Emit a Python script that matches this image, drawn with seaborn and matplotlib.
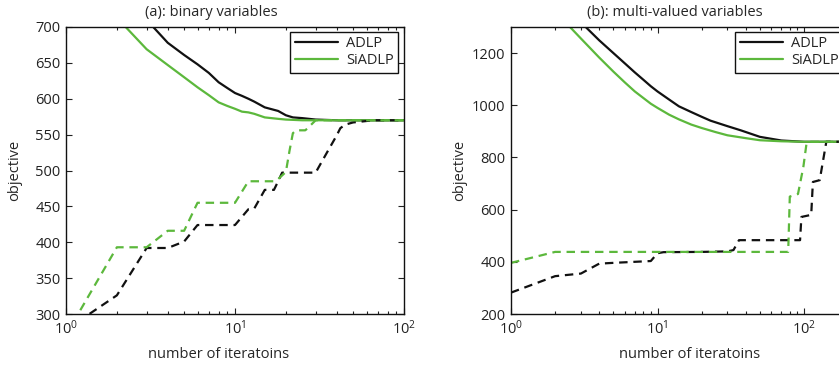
import numpy as np
import pandas as pd
import seaborn as sns
import matplotlib
matplotlib.use('Agg')
import matplotlib.pyplot as plt

# (a) binary variables
iters_a_adlp = [1, 2, 3, 4, 5, 6, 7, 8, 9, 10, 11, 12, 13, 15, 18, 20, 22, 25, 30, 40, 100]
adlp_a = [850, 780, 710, 678, 661, 648, 636, 623, 615, 608, 604, 600, 596, 588, 583, 577, 574, 573, 571, 570, 570]

iters_a_si = [1, 2, 3, 4, 5, 6, 7, 8, 9, 10, 11, 12, 13, 15, 18, 20, 25, 100]
siadlp_a = [788, 713, 669, 647, 630, 616, 605, 595, 590, 586, 582, 581, 579, 574, 572, 571, 570, 570]

iters_a_adlp_lb = [1, 2, 3, 4, 5, 6, 10, 12, 13, 15, 17, 18, 19, 30, 31, 35, 40, 42, 45, 50, 55, 60, 65, 100]
adlp_lb_a = [278, 326, 392, 392, 401, 424, 424, 446, 447, 473, 473, 485, 497, 497, 503, 525, 549, 559, 564, 567, 568, 569, 570, 570]

iters_a_si_lb = [1, 2, 3, 4, 5, 6, 10, 12, 17, 18, 20, 21, 22, 23, 26, 27, 28, 30, 100]
siadlp_lb_a = [271, 393, 393, 416, 416, 455, 455, 485, 485, 488, 498, 527, 552, 556, 556, 559, 563, 570, 570]

# (b) multi-valued variables
iters_b_adlp = [1, 2, 3, 4, 5, 6, 7, 8, 9, 10, 12, 14, 17, 20, 23, 30, 37, 50, 70, 100, 250]
adlp_b = [1600, 1413, 1318, 1249, 1200, 1160, 1126, 1098, 1073, 1053, 1022, 996, 974, 956, 941, 920, 904, 879, 865, 860, 860]

iters_b_si = [1, 2, 3, 4, 5, 6, 7, 8, 9, 10, 12, 14, 17, 20, 25, 30, 40, 50, 70, 100, 250]
siadlp_b = [1480, 1360, 1256, 1183, 1129, 1087, 1053, 1028, 1006, 990, 964, 946, 926, 913, 897, 885, 874, 866, 862, 860, 860]

iters_b_adlp_lb = [1, 2, 3, 4, 5, 9, 10, 11, 20, 30, 33, 36, 94, 96, 112, 115, 128, 142, 250]
adlp_lb_b = [282, 345, 355, 393, 396, 403, 433, 437, 438, 440, 445, 483, 483, 572, 580, 706, 713, 860, 860]

iters_b_si_lb = [1, 2, 78, 80, 85, 91, 99, 104, 107, 250]
siadlp_lb_b = [396, 438, 438, 650, 655, 660, 764, 853, 860, 860]

BLACK = '#111111'
GREEN = '#5cb83c'

sns.set_style('ticks')
plt.rcParams['font.family'] = ['Open Sans', 'DejaVu Sans']
plt.rcParams['mathtext.fontset'] = 'custom'
plt.rcParams['mathtext.rm'] = 'Open Sans'
plt.rcParams['mathtext.it'] = 'Open Sans'

FS = 10.5

fig = plt.figure(figsize=(8.39, 3.70), dpi=100)
ax_a = fig.add_axes([66 / 839, 56 / 370, 338 / 839, 287 / 370])
ax_b = fig.add_axes([511 / 839, 56 / 370, 338 / 839, 287 / 370])


def draw(ax, xs, ys, color, dashed, label=None):
    sns.lineplot(x=xs, y=ys, ax=ax, color=color, lw=1.6,
                 linestyle=(0, (3.8, 2.6)) if dashed else '-',
                 label=label, legend=False)


draw(ax_a, iters_a_adlp, adlp_a, BLACK, False, 'ADLP')
draw(ax_a, iters_a_si, siadlp_a, GREEN, False, 'SiADLP')
draw(ax_a, iters_a_adlp_lb, adlp_lb_a, BLACK, True)
draw(ax_a, iters_a_si_lb, siadlp_lb_a, GREEN, True)

draw(ax_b, iters_b_adlp, adlp_b, BLACK, False, 'ADLP')
draw(ax_b, iters_b_si, siadlp_b, GREEN, False, 'SiADLP')
draw(ax_b, iters_b_adlp_lb, adlp_lb_b, BLACK, True)
draw(ax_b, iters_b_si_lb, siadlp_lb_b, GREEN, True)

ax_a.set_xscale('log')
ax_a.set_xlim(1, 100)
ax_a.set_ylim(300, 700)
ax_a.set_yticks(np.arange(300, 701, 50))

ax_b.set_xscale('log')
ax_b.set_xlim(1, 10 ** (338 / 146.5))
ax_b.set_ylim(200, 1300)
ax_b.set_yticks(np.arange(200, 1201, 200))

for ax, title, tx, lx in [(ax_a, '(a): binary variables', 0.43, 0.45),
                          (ax_b, '(b): multi-valued variables', 0.485, 0.528)]:
    ax.set_title(title, fontsize=FS, x=tx, pad=8)
    ax.set_xlabel('number of iteratoins', fontsize=FS)
    ax.set_ylabel('objective', fontsize=FS)
    ax.xaxis.set_label_coords(lx, -0.115)
    ax.yaxis.set_label_coords(-0.13, 0.5)
    ax.tick_params(which='both', direction='in', top=True, right=True,
                   labelsize=FS, pad=4, colors='#222222', width=0.8)
    ax.tick_params(which='major', length=4)
    ax.tick_params(which='minor', length=2)
    for s in ax.spines.values():
        s.set_color('#111111')
        s.set_linewidth(1.0)
    leg = ax.legend(loc='upper right', bbox_to_anchor=(0.982, 0.983),
                    fancybox=False, framealpha=1, edgecolor='#111111',
                    fontsize=FS, handlelength=3.0, borderpad=0.3,
                    labelspacing=0.15, handletextpad=0.5, borderaxespad=0)
    leg.get_frame().set_linewidth(1.0)

fig.savefig('out.png', dpi=100)
